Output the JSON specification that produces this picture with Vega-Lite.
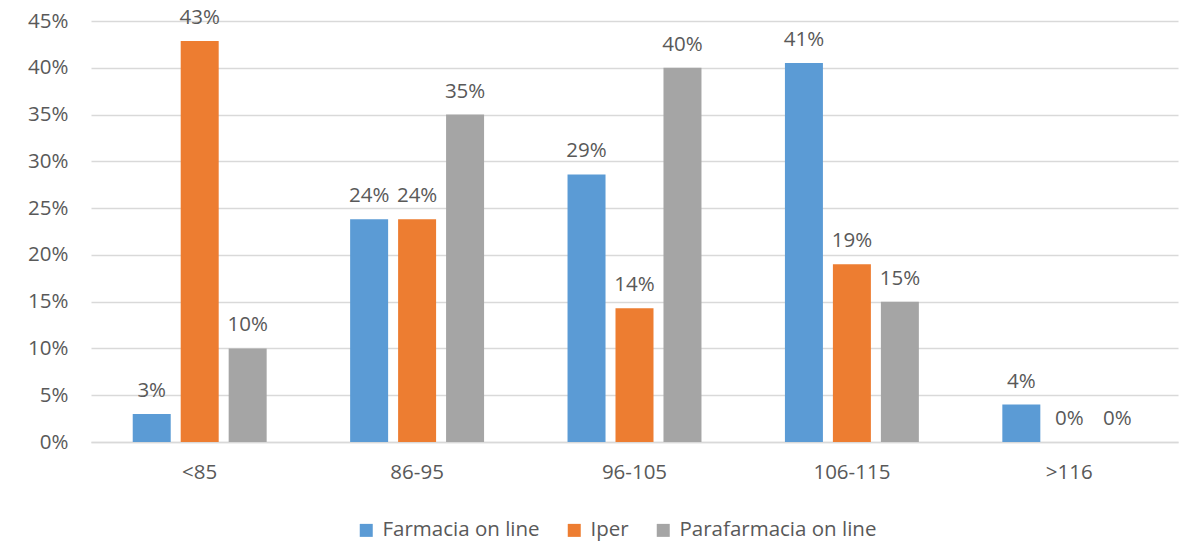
{
  "$schema": "https://vega.github.io/schema/vega-lite/v6.json",
  "width": 1087,
  "height": 421,
  "autosize": {"type": "none"},
  "padding": {"left": 91, "top": 21, "right": 10, "bottom": 114},
  "background": "white",
  "config": {
    "font": "Open Sans",
    "view": {"stroke": null},
    "axis": {"labelFont": "Open Sans", "labelColor": "#595959", "labelFontSize": 20.5},
    "legend": {"labelFont": "Open Sans", "labelColor": "#595959", "labelFontSize": 20.5}
  },
  "data": {
    "values": [
      {"fascia": "<85", "canale": "Farmacia on line", "quota": 0.03},
      {"fascia": "<85", "canale": "Iper", "quota": 0.4286},
      {"fascia": "<85", "canale": "Parafarmacia on line", "quota": 0.10},
      {"fascia": "86-95", "canale": "Farmacia on line", "quota": 0.238},
      {"fascia": "86-95", "canale": "Iper", "quota": 0.238},
      {"fascia": "86-95", "canale": "Parafarmacia on line", "quota": 0.35},
      {"fascia": "96-105", "canale": "Farmacia on line", "quota": 0.286},
      {"fascia": "96-105", "canale": "Iper", "quota": 0.143},
      {"fascia": "96-105", "canale": "Parafarmacia on line", "quota": 0.40},
      {"fascia": "106-115", "canale": "Farmacia on line", "quota": 0.405},
      {"fascia": "106-115", "canale": "Iper", "quota": 0.19},
      {"fascia": "106-115", "canale": "Parafarmacia on line", "quota": 0.15},
      {"fascia": ">116", "canale": "Farmacia on line", "quota": 0.04},
      {"fascia": ">116", "canale": "Iper", "quota": 0.0},
      {"fascia": ">116", "canale": "Parafarmacia on line", "quota": 0.0}
    ]
  },
  "encoding": {
    "x": {
      "field": "fascia", "type": "nominal", "sort": null,
      "scale": {"paddingInner": 0.338, "paddingOuter": 0.169},
      "axis": {"title": null, "labelAngle": 0, "ticks": false, "domainColor": "#D9D9D9", "domainWidth": 1.5, "labelPadding": 20}
    },
    "xOffset": {
      "field": "canale", "type": "nominal",
      "scale": {"paddingInner": 0.208, "paddingOuter": 0.104}
    },
    "y": {
      "field": "quota", "type": "quantitative",
      "scale": {"domain": [0, 0.45]},
      "axis": {"title": null, "format": ".0%", "values": [0,0.05,0.1,0.15,0.2,0.25,0.3,0.35,0.4,0.45], "labelOverlap": false, "domain": false, "ticks": false, "gridColor": "#D9D9D9", "gridWidth": 1.5, "labelPadding": 23}
    }
  },
  "layer": [
    {
      "mark": {"type": "bar"},
      "encoding": {
        "color": {
          "field": "canale", "type": "nominal",
          "scale": {"domain": ["Farmacia on line", "Iper", "Parafarmacia on line"], "range": ["#5B9BD5", "#ED7D31", "#A5A5A5"]},
          "legend": {"title": null, "orient": "none", "legendX": 265, "legendY": 499, "direction": "horizontal", "symbolType": "square", "symbolSize": 169, "symbolStrokeWidth": 0, "columnPadding": 24, "labelOffset": 6, "labelLimit": 0}
        }
      }
    },
    {
      "mark": {"type": "text", "baseline": "alphabetic", "dy": -17, "fontSize": 20.5, "color": "#595959"},
      "encoding": {
        "text": {"field": "quota", "type": "quantitative", "format": ".0%"}
      }
    }
  ]
}
